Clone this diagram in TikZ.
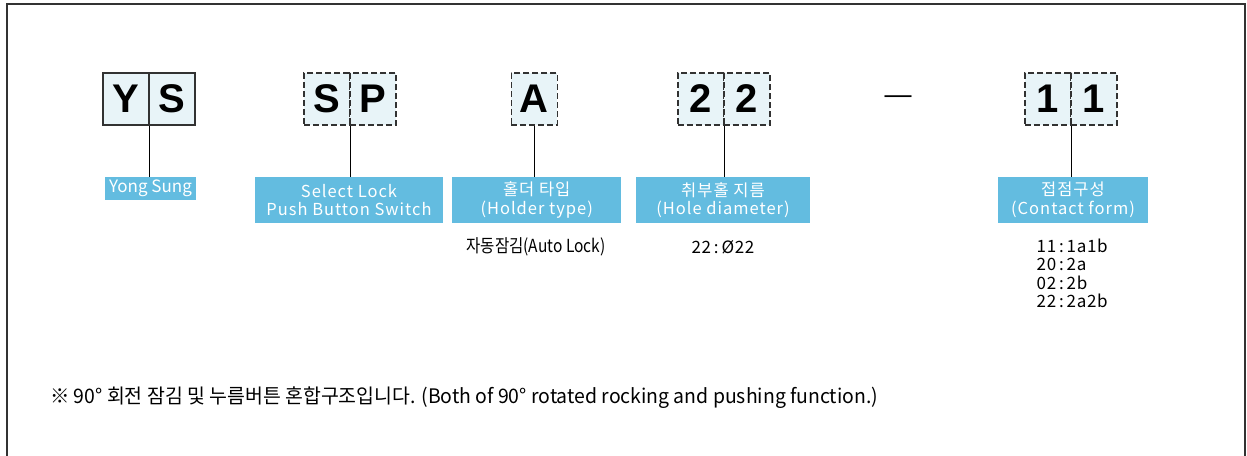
\documentclass[tikz,border=0pt]{standalone}
\usepackage{fontspec}
\usepackage{graphicx}
\setmainfont{Liberation Sans}
\newfontfamily\kr{Noto Sans CJK KR}
\newfontfamily\krsp[LetterSpace=6]{Noto Sans CJK KR}
\newfontfamily\krlist[LetterSpace=4]{Noto Sans CJK KR}
\definecolor{cellfill}{RGB}{232,244,248}
\definecolor{labfill}{RGB}{99,188,224}
\definecolor{edge}{RGB}{50,50,50}
\tikzset{
  cellsolid/.style={draw=edge, line width=1.6pt, fill=cellfill, minimum width=46pt, minimum height=52pt, inner sep=0pt,
    font=\fontsize{40}{40}\selectfont\bfseries},
  celldash/.style={cellsolid, dash pattern=on 6pt off 3pt},
  labelbox/.style={fill=labfill, text=white, inner sep=0pt, align=center, font=\krsp\fontsize{16.5}{18.5}\selectfont},
  conn/.style={draw=black, line width=1.1pt},
  subtext/.style={inner sep=0pt, font=\kr\fontsize{18}{18.2}\selectfont}
}
\begin{document}
\begin{tikzpicture}[x=1pt,y=-1pt]
\useasboundingbox (0,0) rectangle (1247,455);
\draw[edge, line width=2pt] (7,457) -- (7,4) -- (1245,4) -- (1245,457);
% YS
\node[cellsolid] (c1) at (126,99) {Y};
\node[cellsolid] (c2) at (172,99) {S};
% SP
\node[celldash] (c3) at (327,99) {S};
\node[celldash] (c4) at (373,99) {P};
% A
\node[celldash] (c5) at (534.4,99) {A};
% 22
\node[celldash] (c6) at (700.7,99) {2};
\node[celldash] (c7) at (746.7,99) {2};
% dash
\node[inner sep=0pt, font=\fontsize{27}{27}\selectfont] (dashmark) at (898,100) {—};
% 11
\node[celldash] (c8) at (1048,99) {1};
\node[celldash] (c9) at (1094,99) {1};
% labels
\node[labelbox, minimum width=91pt, minimum height=23pt, font=\kr\fontsize{17}{17}\selectfont] (l1) at (150.5,188.3) {Yong Sung};
\node[labelbox, minimum width=188pt, minimum height=46pt] (l2) at (349,200) {Select Lock\\Push Button Switch};
\node[labelbox, minimum width=169pt, minimum height=46pt] (l3) at (536.7,200) {홀더 타입\\(Holder type)};
\node[labelbox, minimum width=174pt, minimum height=46pt] (l4) at (723,200) {취부홀 지름\\(Hole diameter)};
\node[labelbox, minimum width=149.4pt, minimum height=46pt] (l5) at (1073,200) {접점구성\\(Contact form)};
% connectors
\draw[conn] (c1.south east) -- (c1.south east |- l1.north);
\draw[conn] (c3.south east) -- (c3.south east |- l2.north);
\draw[conn] (c5.south) -- (c5.south |- l3.north);
\draw[conn] (c6.south east) -- (c6.south east |- l4.north);
\draw[conn] (c8.south east) -- (c8.south east |- l5.north);
% sub texts
\node[subtext] (s3) at (536,247) {\resizebox{139pt}{\height}{자동잠김(Auto Lock)}};
\node[subtext, font=\krlist\fontsize{17}{18}\selectfont] (s4) at (723,247) {22\,:\,Ø22};
\node[subtext, anchor=north west, align=left, font=\krlist\fontsize{17}{18.2}\selectfont] (s5) at (1036.5,239) {11\,:\,1a1b\\20\,:\,2a\\02\,:\,2b\\22\,:\,2a2b};
% footnote
\node[subtext, anchor=west, font=\kr\fontsize{20}{20}\selectfont] (note) at (50,398) {\resizebox{828pt}{\height}{※ 90° 회전 잠김 및 누름버튼 혼합구조입니다. (Both of 90° rotated rocking and pushing function.)}};
\end{tikzpicture}
\end{document}
